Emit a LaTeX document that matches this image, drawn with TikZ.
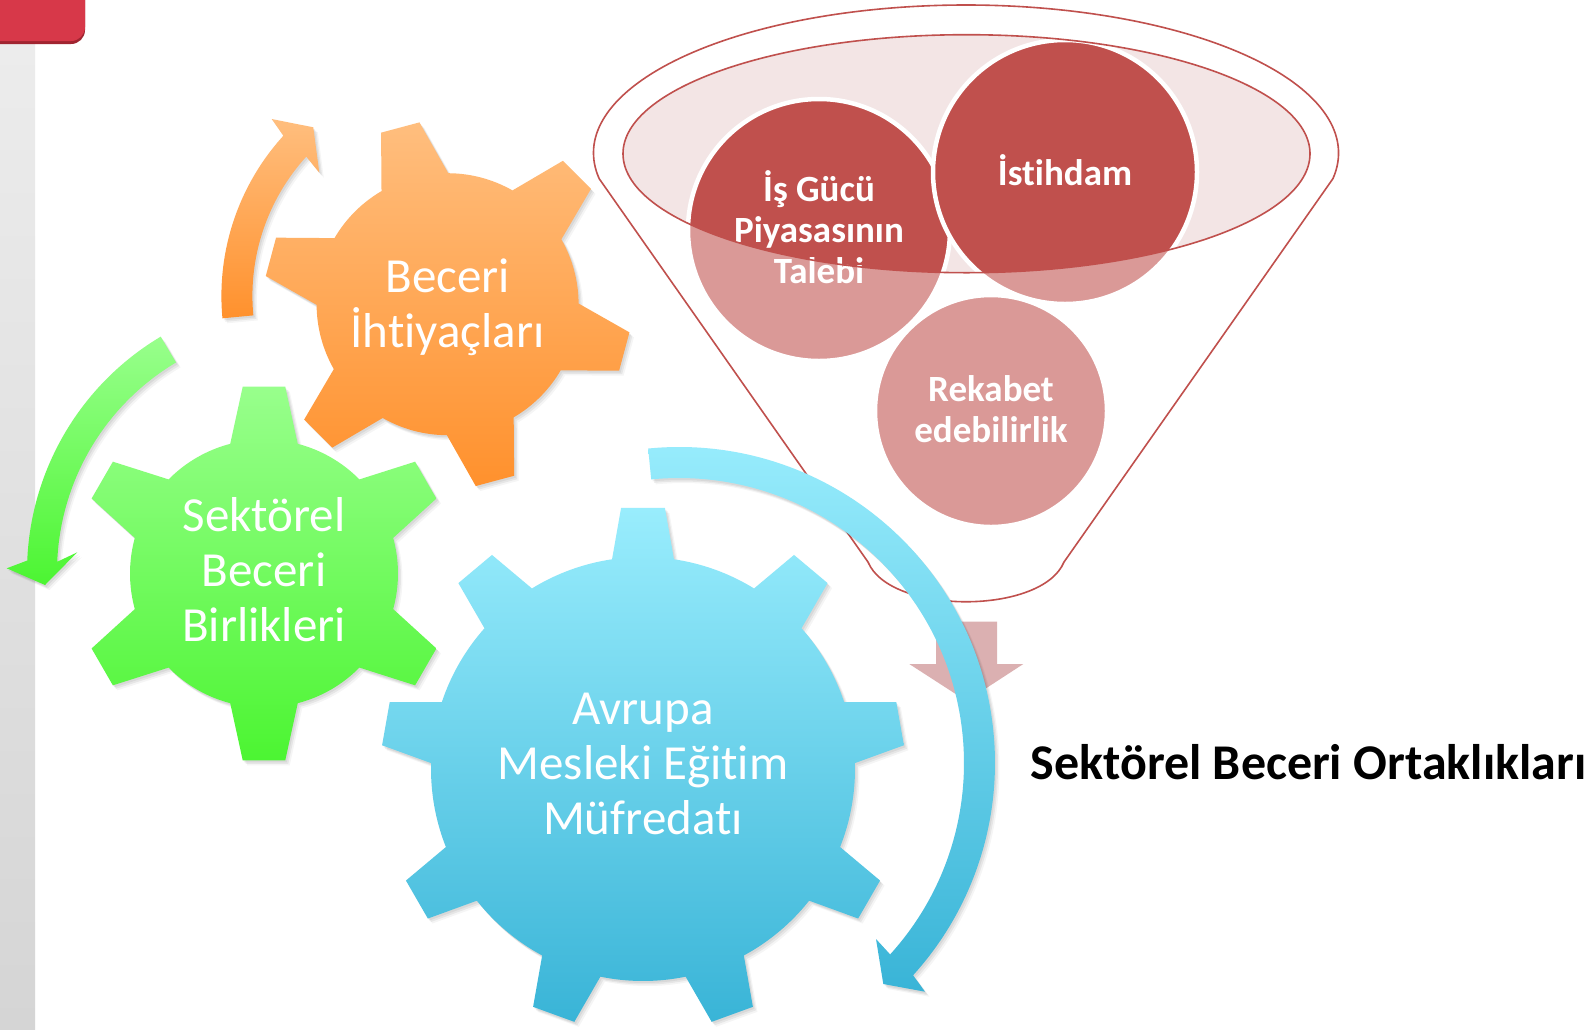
\documentclass[tikz,border=0pt]{standalone}
\usepackage{fontspec}
\setmainfont{Carlito}[Ligatures=NoCommon]
\definecolor{barTop}{RGB}{237,237,237}
\definecolor{barBot}{RGB}{213,213,213}
\definecolor{tabRed}{RGB}{215,56,73}
\definecolor{tabDark}{RGB}{160,36,48}
\definecolor{oTop}{RGB}{255,190,126}
\definecolor{oBot}{RGB}{255,145,45}
\definecolor{gTop}{RGB}{152,255,140}
\definecolor{gBot}{RGB}{76,245,50}
\definecolor{bTop}{RGB}{153,237,253}
\definecolor{bBot}{RGB}{57,180,215}
\definecolor{fRed}{RGB}{192,80,77}
\definecolor{ellFill}{RGB}{243,229,229}
\definecolor{pinkArrow}{RGB}{219,176,177}

% #1 body radius, #2 tip radius, #3 teeth, #4 first tooth angle, #5 base half angle, #6 tip half angle
\newcommand{\gearpath}[6]{%
  ({#4-#5}:#1)
  \foreach \k in {1,...,#3}{
    -- ({#4+(\k-1)*360/#3-#6}:#2)
    -- ({#4+(\k-1)*360/#3+#6}:#2)
    -- ({#4+(\k-1)*360/#3+#5}:#1)
    arc[start angle={#4+(\k-1)*360/#3+#5}, end angle={#4+\k*360/#3-#5}, radius=#1]
  } -- cycle}

\newcommand{\softshadow}[1]{%
  \fill[black,opacity=0.06,shift={(1.5,2)}] #1;
  \fill[black,opacity=0.06,shift={(3,3.5)}] #1;
  \fill[black,opacity=0.04,shift={(4.5,5)}] #1;}

\tikzset{
  geartext/.style={text=white, align=center, inner sep=0pt, font={\fontsize{49}{55}\selectfont}},
  circtext/.style={text=white, align=center, inner sep=0pt, font={\bfseries\fontsize{37}{41}\selectfont}},
  titletext/.style={text=black, inner sep=0pt, anchor=base west, font={\bfseries\fontsize{50}{60}\selectfont}},
  circshape/.style={fill=fRed, draw=white, line width=4.5pt},
  funnelline/.style={draw=fRed, line width=1.6pt},
}

\begin{document}
\begin{tikzpicture}[x=1pt,y=-1pt]
\useasboundingbox (0,0) rectangle (1596,1029);
\fill[white] (0,0) rectangle (1596,1029);

% left bar and tab
\shade[top color=barTop,bottom color=barBot] (0,0) rectangle (35,1029);
\fill[tabDark] (0,0) -- (85,0) -- (85,30) arc[start angle=0,end angle=90,radius=14] -- (0,44) -- cycle;
\fill[tabRed] (0,0) -- (85,0) -- (85,27) arc[start angle=0,end angle=90,radius=14] -- (0,41) -- cycle;

% funnel
\def\funnelouter{(599.2,178.7) arc[start angle=170,end angle=370,x radius=372.5,y radius=148] -- (1064,562) .. controls (1042,615) and (890,615) .. (868,562) -- cycle}
\def\funnelinner{(966.5,153.7) ellipse[x radius=343.5,y radius=119]}
\fill[white] \funnelouter;
\fill[ellFill] \funnelinner;
\path[circshape] (991,411) circle[radius=116];
\path[circshape] (819,230) circle[radius=131];
\path[circshape] (1065,172) circle[radius=132];
\fill[white,opacity=0.42,even odd rule] \funnelouter \funnelinner;
\node[circtext] (talep) at (819,227) {İş Gücü\\Piyasasının\\Talebi};
\node[circtext] (istihdam) at (1065,170) {İstihdam};
\node[circtext] (rekabet) at (991,409) {Rekabet\\edebilirlik};
\path[funnelline] \funnelinner;
\path[funnelline] \funnelouter;

% pink arrow
\fill[pinkArrow] (936,621.7) -- (997,621.7) -- (997,664) -- (1023.3,664) -- (966.5,701) -- (909.3,664) -- (936,664) -- cycle;

% orange arrow
\def\oarrow{([shift={(459.4,295.9)}]174.6:238) arc[start angle=174.6,end angle=222.3,radius=238] -- (271.7,119) -- (313.3,127.3) -- (319.3,172.7) -- ([shift={(459.4,295.9)}]222.3:207) arc[start angle=222.3,end angle=174.6,radius=207] -- cycle}
\softshadow{\oarrow}
\shade[top color=oTop,bottom color=oBot] \oarrow;

% green arrow
\def\garrow{([shift={(301,572)}]239.2:274) arc[start angle=239.2,end angle=182.4,radius=274] -- (6.7,568.3) -- (45,585) -- (77.3,552.3) -- ([shift={(301,572)}]182.4:244) arc[start angle=182.4,end angle=239.2,radius=244] -- cycle}
\softshadow{\garrow}
\shade[top color=gTop,bottom color=gBot] \garrow;

% orange gear
\begin{scope}[shift={(447.6,304.2)}]
\def\ogear{\gearpath{131}{184}{6}{15}{15.3}{6.2}}
\softshadow{\ogear}
\shade[top color=oTop,bottom color=oBot] \ogear;
\end{scope}
\node[geartext] (beceri) at (447.6,307) {Beceri\\İhtiyaçları};

% green gear
\begin{scope}[shift={(264,573.5)}]
\def\ggear{\gearpath{134}{188}{6}{30}{14.6}{6.5}}
\softshadow{\ggear}
\shade[top color=gTop,bottom color=gBot] \ggear;
\end{scope}
\node[geartext] (birlik) at (264,570) {Sektörel\\Beceri\\Birlikleri};

% blue gear
\begin{scope}[shift={(643,769)}]
\def\bgear{\gearpath{212}{262}{9}{30}{8.4}{4.8}}
\softshadow{\bgear}
\shade[top color=bTop,bottom color=bBot] \bgear;
\end{scope}
\node[geartext] (avrupa) at (643,764) {Avrupa\\Mesleki Eğitim\\Müfredatı};

% blue arrow
\def\barrow{([shift={(679,763)}]-95.6:316) arc[start angle=-95.6,end angle=42.2,radius=316] -- (925,991.7) -- (883.3,984) -- (876,939) -- ([shift={(679,763)}]42.2:285) arc[start angle=42.2,end angle=-95.6,radius=285] -- cycle}
\softshadow{\barrow}
\shade[top color=bTop,bottom color=bBot] \barrow;

% title
\node[titletext] (title) at (1030.5,779.5) {Sektörel Beceri Ortaklıkları};
\end{tikzpicture}
\end{document}
